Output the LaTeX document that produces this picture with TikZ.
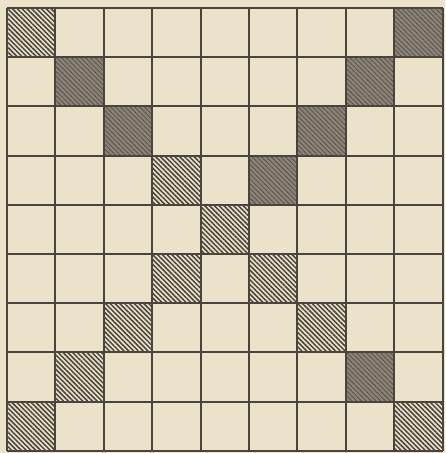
\documentclass[tikz,border=0pt]{standalone}
\usetikzlibrary{patterns.meta}
\definecolor{paper}{RGB}{236,226,202}
\definecolor{ink}{RGB}{74,68,62}
\definecolor{smudge}{RGB}{140,130,117}
\tikzset{
  hatched/.style={pattern={Lines[angle=-45,distance=3.4pt,line width=1.5pt]},
    pattern color=ink},
  smudged/.style={fill=smudge},
  gridline/.style={draw=ink, line width=1.9pt}
}
\begin{document}
\begin{tikzpicture}[x=1pt,y=-1pt]
% paper
\fill[paper] (0,0) rectangle (445,453);
% diagonal cells
\foreach \r/\c/\s in {1/1/hatched,1/9/smudged,2/2/smudged,2/8/smudged,
    3/3/smudged,3/7/smudged,4/4/hatched,4/6/smudged,5/5/hatched,
    6/4/hatched,6/6/hatched,7/3/hatched,7/7/hatched,8/2/hatched,
    8/8/smudged,9/1/hatched,9/9/hatched}{
  \path[\s] ({7+(\c-1)*48.4},{8+(\r-1)*49.2}) rectangle ++(48.4,49.2);
}
% dark streaks on the smudged cells
\foreach \r/\c in {1/9,2/2,2/8,3/3,3/7,4/6,8/8}{
  \path[pattern={Lines[angle=-45,distance=3.4pt,line width=0.9pt]},
    pattern color=ink!90]
    ({7+(\c-1)*48.4},{8+(\r-1)*49.2}) rectangle ++(48.4,49.2);
}
% grid
\foreach \i in {0,...,9}{
  \draw[gridline] ({7+\i*48.4},8) -- ({7+\i*48.4},450.8);
  \draw[gridline] (7,{8+\i*49.2}) -- (442.6,{8+\i*49.2});
}
\end{tikzpicture}
\end{document}
